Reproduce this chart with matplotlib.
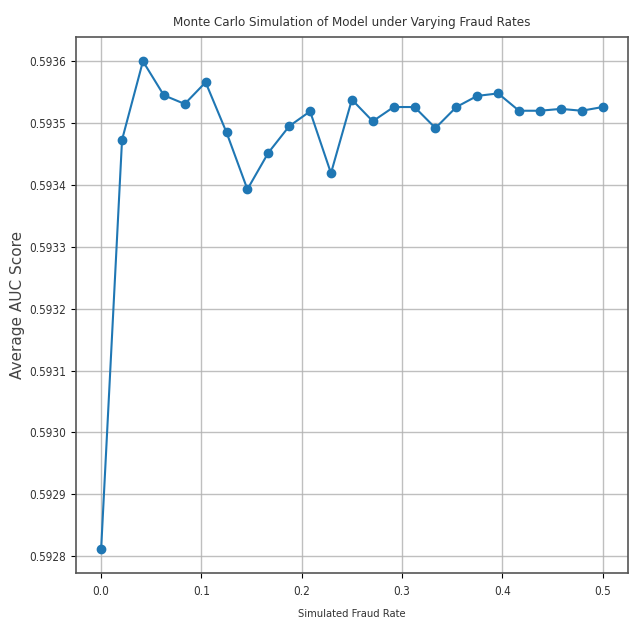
import numpy as np
import matplotlib
matplotlib.use('Agg')
import matplotlib.pyplot as plt
from matplotlib.ticker import FormatStrFormatter

# simulated fraud rates and mean AUC per rate
fraud_rates = np.linspace(0, 0.5, 25)
avg_auc = [0.592812, 0.593473, 0.593600, 0.593545, 0.593531, 0.593566,
           0.593485, 0.593393, 0.593452, 0.593495, 0.593519, 0.593419,
           0.593538, 0.593503, 0.593526, 0.593526, 0.593492, 0.593526,
           0.593544, 0.593548, 0.593520, 0.593520, 0.593523, 0.593520,
           0.593526]

txt_col = '#333333'

fig = plt.figure(figsize=(6.34, 6.25), dpi=100)
ax = fig.add_axes([0.12, 0.083, 0.87, 0.858])

ax.plot(fraud_rates, avg_auc, marker='o', color='#1f77b4', markersize=6, linewidth=1.5)

ax.set_title('Monte Carlo Simulation of Model under Varying Fraud Rates',
             fontsize=9.5, fontstretch='condensed', color=txt_col, pad=8)
ax.set_xlabel('Simulated Fraud Rate', fontsize=8, fontstretch='condensed',
              color=txt_col, labelpad=8)
ax.set_ylabel('Average AUC Score', fontsize=11, color='#444444')
ax.yaxis.set_label_coords(-0.092, 0.5)

ax.yaxis.set_major_formatter(FormatStrFormatter('%.4f'))
ax.tick_params(axis='both', labelcolor=txt_col)
ax.tick_params(axis='x', pad=5)
for lab in ax.get_xticklabels() + ax.get_yticklabels():
    lab.set_fontstretch('condensed')
    lab.set_fontsize(8.5)

for s in ax.spines.values():
    s.set_color('#555555')
    s.set_linewidth(1.2)

ax.grid(True, color='#b0b0b0', linewidth=1.0, alpha=0.8)
fig.savefig('out.png', dpi=100)
